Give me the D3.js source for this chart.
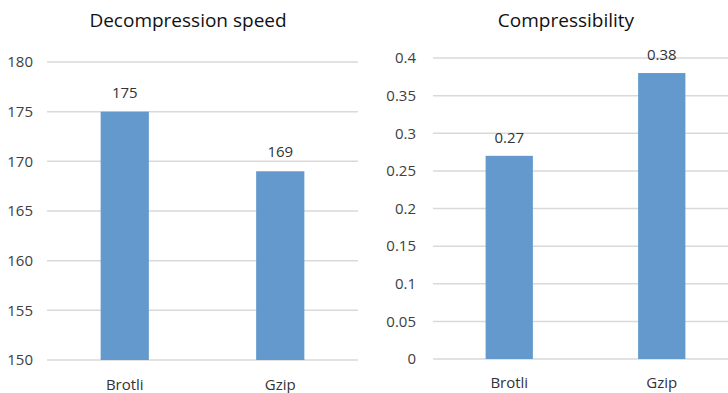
<!DOCTYPE html>
<html>
<head>
<meta charset="utf-8">
<script src="https://cdn.jsdelivr.net/npm/d3@7"></script>
<style>
  html, body { margin: 0; padding: 0; background: #fff; }
  svg { display: block; }
  text { font-family: "Open Sans", "Noto Sans", sans-serif; }
</style>
</head>
<body>
<svg id="chart" width="728" height="393"></svg>
<script>
const categories = ["Brotli", "Gzip"];

const speedTitle = "Decompression speed";
const speedValues = [175, 169];
const speedTicks = [150, 155, 160, 165, 170, 175, 180];

const compTitle = "Compressibility";
const compValues = [0.27, 0.38];
const compTicks = [0, 0.05, 0.1, 0.15, 0.2, 0.25, 0.3, 0.35, 0.4];

const svg = d3.select("#chart");
const barColor = "#6399cc";
const gridColor = "#d9d9d9";

function drawPanel(cfg) {
  const g = svg.append("g");
  const x = d3.scaleBand().domain(categories).range(cfg.xRange)
    .paddingInner(0.69).paddingOuter(0.345);
  const y = d3.scaleLinear().domain(cfg.yDomain).range(cfg.yRange);

  // gridlines
  g.append("g").selectAll("line").data(cfg.ticks).join("line")
    .attr("x1", cfg.gridRange[0]).attr("x2", cfg.gridRange[1])
    .attr("y1", d => y(d)).attr("y2", d => y(d))
    .attr("stroke", gridColor).attr("stroke-width", 1.5);

  // y axis labels
  const yAxis = d3.axisLeft(y).tickValues(cfg.ticks).tickSize(0).tickPadding(0)
    .tickFormat(d => String(+d.toFixed(2)));
  const ya = g.append("g").attr("transform", `translate(${cfg.yLabelX},0)`).call(yAxis);
  ya.select(".domain").remove();
  ya.selectAll("text").attr("font-size", 15).attr("fill", "#404040")
    .attr("font-family", "'Open Sans', sans-serif");

  // bars
  g.append("g").selectAll("rect").data(cfg.values).join("rect")
    .attr("x", (d, i) => x(categories[i]))
    .attr("width", x.bandwidth())
    .attr("y", d => y(d))
    .attr("height", d => y(cfg.yDomain[0]) - y(d))
    .attr("fill", barColor);

  // data labels
  g.append("g").selectAll("text").data(cfg.values).join("text")
    .attr("x", (d, i) => x(categories[i]) + x.bandwidth() / 2)
    .attr("y", d => y(d) - cfg.labelGap)
    .attr("text-anchor", "middle")
    .attr("font-size", 15).attr("fill", "#333")
    .text(d => d);

  // x axis labels
  const xAxis = d3.axisBottom(x).tickSize(0).tickPadding(0);
  const xa = g.append("g").attr("transform", `translate(0,${cfg.xLabelY})`).call(xAxis);
  xa.select(".domain").remove();
  xa.selectAll("text").attr("font-size", 15).attr("fill", "#333")
    .attr("dy", 0).attr("font-family", "'Open Sans', sans-serif");

  // title
  g.append("text")
    .attr("x", cfg.titleX).attr("y", 27)
    .attr("text-anchor", "middle")
    .attr("font-size", 19).attr("fill", "#111")
    .text(cfg.title);
}

drawPanel({
  title: speedTitle, titleX: 188,
  values: speedValues, ticks: speedTicks,
  yDomain: [150, 180], yRange: [360, 62],
  xRange: [47, 358], gridRange: [47, 358],
  yLabelX: 33, xLabelY: 390, labelGap: 14
});

drawPanel({
  title: compTitle, titleX: 566,
  values: compValues, ticks: compTicks,
  yDomain: [0, 0.4], yRange: [359, 58],
  xRange: [433, 738], gridRange: [433, 738],
  yLabelX: 416, xLabelY: 388, labelGap: 13
});
</script>
</body>
</html>
